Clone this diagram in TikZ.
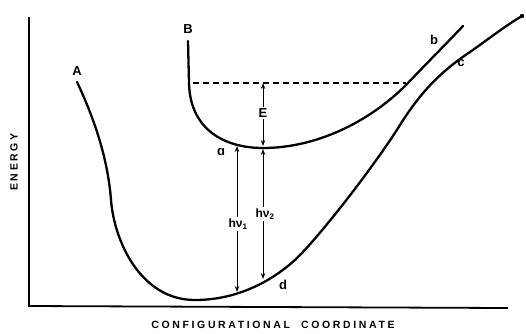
\documentclass[tikz,border=0pt]{standalone}
\usepackage{fontspec}
\setmainfont{Liberation Sans}
\usetikzlibrary{arrows.meta}
\begin{document}
\begin{tikzpicture}[x=1pt,y=-1pt,
  curve/.style={line width=2.3pt,line cap=round},
  axis/.style={line width=1.8pt},
  lbl/.style={font=\bfseries\fontsize{13}{14}\selectfont,inner sep=1pt},
  dbl/.style={line width=1pt,{Stealth[length=6pt,width=4.5pt]}-{Stealth[length=6pt,width=4.5pt]}},
  axlbl/.style={font=\bfseries\fontsize{10.5}{12}\selectfont\addfontfeature{LetterSpace=25}}]
\useasboundingbox (0,0) rectangle (526,333);
% axes
\coordinate (ytop) at (29,17);
\coordinate (orig) at (29,306);
\coordinate (xend) at (508,308);
\draw[axis] (ytop) -- (orig) -- (xend);
\node[axlbl,rotate=90] (ylab) at (14,162) {ENERGY};
\node[axlbl] (xlab) at (273,325) {CONFIGURATIONAL\ \ COORDINATE};
% curve A (ground state)
\draw[curve] (77,82) .. controls (95,120) and (108,160) .. (111,200)
  .. controls (114,240) and (140,300) .. (195,300)
  .. controls (235,300) and (270,283) .. (296,259)
  .. controls (320,236) and (375,165) .. (400,125)
  .. controls (420,93) and (440,72) .. (470,52)
  .. controls (490,38) and (505,26) .. (522,16);
\fill (522,16) circle (2.2pt);
% curve B (excited state)
\draw[curve] (188,41) -- (189,83)
  .. controls (190,130) and (225,148) .. (263,148)
  .. controls (315,148) and (368,123) .. (406,85)
  .. controls (425,65) and (445,45) .. (463,26);
% dashed level
\coordinate (dL) at (193,83);
\coordinate (dR) at (406,83);
\draw[line width=1.1pt,dash pattern=on 6pt off 4pt] (dL) -- (dR);
% arrows
\coordinate (a1t) at (237,146);
\coordinate (a1b) at (237,292);
\coordinate (a2t) at (263,149);
\coordinate (a2b) at (263,279);
\coordinate (et) at (263,83);
\coordinate (eb) at (263,146);
\draw[dbl] (a1t) -- (a1b);
\draw[dbl] (a2t) -- (a2b);
\draw[dbl] (et) -- (eb);
\node[lbl,fill=white,inner sep=2pt] (E) at (263,113) {E};
\node[lbl,fill=white,inner sep=1.5pt,font=\bfseries\fontsize{12}{13}\selectfont] (hv1) at (238,224) {hν\textsubscript{1}};
\node[lbl,fill=white,inner sep=1.5pt,font=\bfseries\fontsize{12}{13}\selectfont] (hv2) at (265,214) {hν\textsubscript{2}};
% letters
\node[lbl] (A) at (77,71) {A};
\node[lbl] (B) at (188,29) {B};
\node[lbl] (b) at (434,40) {b};
\node[lbl] (c) at (461,63) {c};
\node[lbl] (a) at (221,152) {ɑ};
\node[lbl] (d) at (283,285) {d};
\end{tikzpicture}
\end{document}
